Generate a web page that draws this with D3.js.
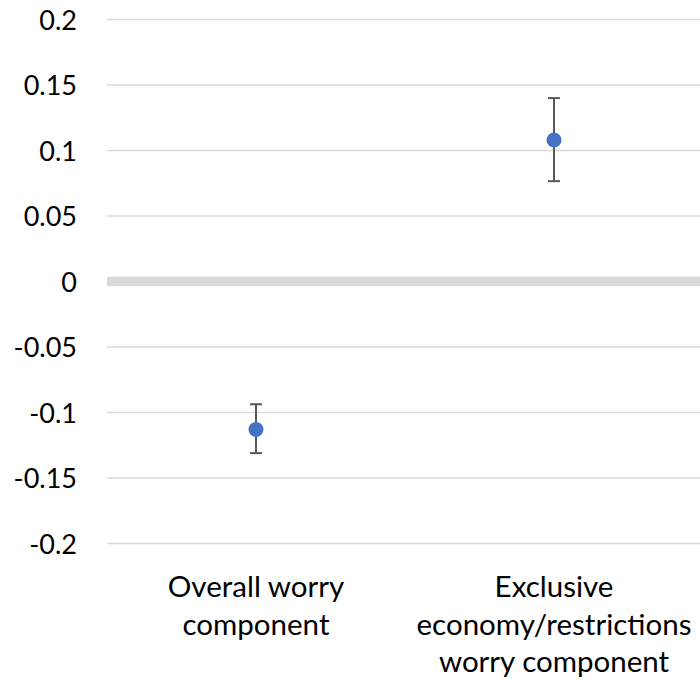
<!DOCTYPE html>
<html>
<head>
<meta charset="utf-8">
<script src="https://cdn.jsdelivr.net/npm/d3@7"></script>
<style>
	body { margin: 0; background: #fff; }
	text { font-family: Lato, "Open Sans", sans-serif; fill: #000; }
</style>
</head>
<body>
<script>
var categories = [
	["Overall worry", "component"],
	["Exclusive", "economy/restrictions", "worry component"]
];
var pointValues = [-0.113, 0.108];
var lowerValues = [-0.131, 0.0766];
var upperValues = [-0.0937, 0.140];
var yTicks = [-0.2, -0.15, -0.1, -0.05, 0, 0.05, 0.1, 0.15, 0.2];

function drawChart(){
	var width = 700, height = 680;

	var svgContainer = d3.select("body").append("svg").attr("width", width).attr("height", height);

	var x = d3.scaleBand().domain(d3.range(categories.length)).range([107, 703]);
	var y = d3.scaleLinear().domain([-0.2, 0.2]).range([543.5, 19.5]);

	// gridlines
	svgContainer.selectAll("line.grid").data(yTicks.filter(function(d){ return d !== 0; })).enter().append("line")
	.attr("class", "grid")
	.attr("x1", 107).attr("x2", 703)
	.attr("y1", function(d){ return y(d); })
	.attr("y2", function(d){ return y(d); })
	.style("stroke", "#d9d9d9")
	.style("stroke-width", 1.5);

	// zero axis line
	svgContainer.append("line")
	.attr("x1", 107).attr("x2", 703)
	.attr("y1", y(0)).attr("y2", y(0))
	.style("stroke", "#d9d9d9")
	.style("stroke-width", 9.5);

	// y tick labels
	svgContainer.selectAll("text.ytick").data(yTicks).enter().append("text")
	.attr("class", "ytick")
	.attr("x", 77)
	.attr("y", function(d){ return y(d) + 10; })
	.attr("text-anchor", "end")
	.style("font-size", "27px")
	.text(function(d){ return d; });

	// error bars
	var bars = svgContainer.selectAll("g.err").data(pointValues).enter().append("g").attr("class", "err");
	bars.append("line")
	.attr("x1", function(d, i){ return x(i) + x.bandwidth() / 2; })
	.attr("x2", function(d, i){ return x(i) + x.bandwidth() / 2; })
	.attr("y1", function(d, i){ return y(lowerValues[i]); })
	.attr("y2", function(d, i){ return y(upperValues[i]); });
	bars.append("line")
	.attr("x1", function(d, i){ return x(i) + x.bandwidth() / 2 - 6; })
	.attr("x2", function(d, i){ return x(i) + x.bandwidth() / 2 + 6; })
	.attr("y1", function(d, i){ return y(lowerValues[i]); })
	.attr("y2", function(d, i){ return y(lowerValues[i]); });
	bars.append("line")
	.attr("x1", function(d, i){ return x(i) + x.bandwidth() / 2 - 6; })
	.attr("x2", function(d, i){ return x(i) + x.bandwidth() / 2 + 6; })
	.attr("y1", function(d, i){ return y(upperValues[i]); })
	.attr("y2", function(d, i){ return y(upperValues[i]); });
	bars.selectAll("line").style("stroke", "#595959").style("stroke-width", 2);

	// points
	svgContainer.selectAll("circle").data(pointValues).enter().append("circle")
	.attr("cx", function(d, i){ return x(i) + x.bandwidth() / 2; })
	.attr("cy", function(d){ return y(d); })
	.attr("r", 7.5)
	.style("fill", "#4472c4");

	// category labels
	var labels = svgContainer.selectAll("text.cat").data(categories).enter().append("text")
	.attr("class", "cat")
	.attr("text-anchor", "middle")
	.style("font-size", "29.5px");
	labels.selectAll("tspan").data(function(d, i){ return d.map(function(t){ return { t: t, i: i }; }); }).enter().append("tspan")
	.attr("x", function(d){ return x(d.i) + x.bandwidth() / 2; })
	.attr("y", function(d, j){ return 597 + j * 37.5; })
	.text(function(d){ return d.t; });
}

drawChart();
</script>
</body>
</html>
